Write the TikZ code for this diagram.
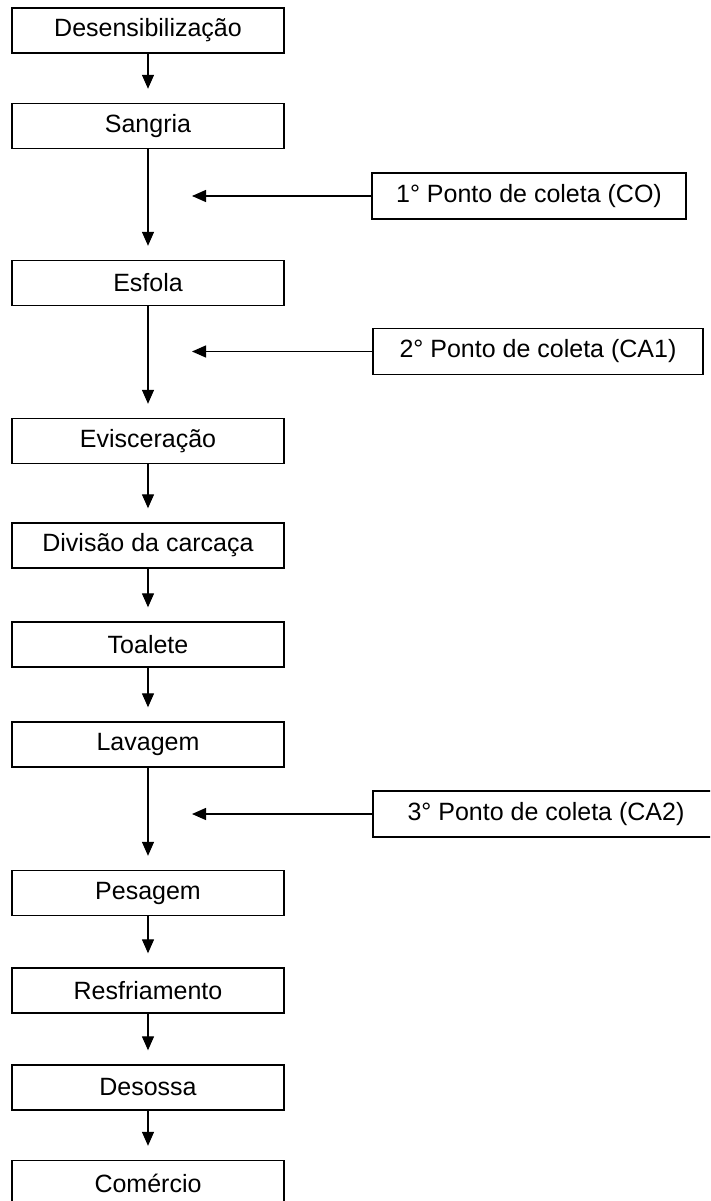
\documentclass[tikz,border=0pt]{standalone}
\usepackage{fontspec}
\setmainfont{Liberation Sans}
\usetikzlibrary{arrows.meta}
\begin{document}
\begin{tikzpicture}[x=1pt,y=-1pt,
  stepbox/.style={draw,line width=1.4pt,minimum width=272pt,minimum height=45pt,inner sep=0pt,font=\fontsize{25}{30}\selectfont},
  sidebox/.style={draw,line width=1.4pt,minimum height=46pt,inner sep=0pt,font=\fontsize{25}{30}\selectfont},
  arr/.style={line width=1.3pt,-{Triangle[length=14pt,width=12pt]}}]
\useasboundingbox (0,0) rectangle (710,1201);
\clip (0,0) rectangle (710,1201);
\node[stepbox] (n1) at (148,30.5) {Desensibilização};
\node[stepbox] (n2) at (148,126) {Sangria};
\node[stepbox] (n3) at (148,283) {Esfola};
\node[stepbox] (n4) at (148,441) {Evisceração};
\node[stepbox] (n5) at (148,545.5) {Divisão da carcaça};
\node[stepbox] (n6) at (148,644.5) {Toalete};
\node[stepbox] (n7) at (148,744.5) {Lavagem};
\node[stepbox] (n8) at (148,893) {Pesagem};
\node[stepbox] (n9) at (148,990.5) {Resfriamento};
\node[stepbox] (n10) at (148,1087.5) {Desossa};
\node[stepbox] (n11) at (148,1183) {Comércio};
\node[sidebox,minimum width=314pt] (s1) at (529,196) {1° Ponto de coleta (CO)};
\node[sidebox,minimum width=330pt] (s2) at (538,351.5) {2° Ponto de coleta (CA1)};
\node[sidebox,minimum width=346pt] (s3) at (546,814) {3° Ponto de coleta (CA2)};
\coordinate (t1) at (192,196);
\coordinate (t2) at (192,351.5);
\coordinate (t3) at (192,814);
\foreach \a/\b in {n1/n2,n2/n3,n3/n4,n4/n5,n5/n6,n6/n7,n7/n8,n8/n9,n9/n10,n10/n11}
  \draw[arr] (\a.south) -- ([yshift=14pt]\b.north);
\draw[arr] (s1.west) -- (t1);
\draw[arr] (s2.west) -- (t2);
\draw[arr] (s3.west) -- (t3);
\end{tikzpicture}
\end{document}
